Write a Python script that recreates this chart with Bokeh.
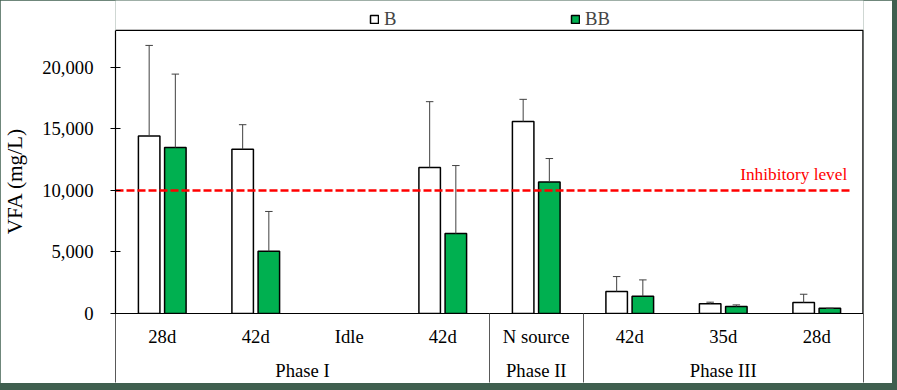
import numpy as np
from bokeh.plotting import figure
from bokeh.models import (Range1d, FixedTicker, NumeralTickFormatter, Label, LinearAxis,
                          Legend, LegendItem)
from bokeh.layouts import column
from bokeh.embed import file_html
from bokeh.resources import INLINE

# ---------------- data ----------------
categories = ["28d", "42d", "Idle", "42d", "N source", "42d", "35d", "28d"]
phases = ["Phase I", "Phase II", "Phase III"]
phase_start = [0, 4, 5]
phase_end = [4, 5, 8]
b_values = [14420, 13350, np.nan, 11860, 15590, 1790, 790, 890]
b_errors = [7360, 1990, np.nan, 5350, 1810, 1210, 130, 675]
bb_values = [13480, 5050, np.nan, 6490, 10680, 1400, 570, 430]
bb_errors = [5970, 3240, np.nan, 5530, 1910, 1330, 130, 0]
inhibitory_level = 10000
y_ticks = [0, 5000, 10000, 15000, 20000]
y_max = 23000
series_names = ["B", "BB"]

# ---------------- style / layout ----------------
FONT = "Liberation Serif"
GREEN = "#00B050"
BG = "#3f5f4f"
FS = "18.67px"
W, H = 892, 383
LEFT, AXIS_Y, BOX_TOP, BOX_RIGHT = 115, 314, 30, 863   # pixel layout of the plot box
SEP_LEN = H - AXIS_Y

n = len(categories)
xc = np.arange(n) + 0.5
xb = xc - 0.14
xbb = xc + 0.14
bv = np.array(b_values, dtype=float)
be = np.array(b_errors, dtype=float)
bbv = np.array(bb_values, dtype=float)
bbe = np.array(bb_errors, dtype=float)

# frame extends to the top edge so the legend / top border are drawn inside it
y_hi = y_max * AXIS_Y / (AXIS_Y - BOX_TOP)

p = figure(width=W, height=H, x_range=Range1d(0, n), y_range=Range1d(0, y_hi),
           output_backend="svg", toolbar_location=None,
           min_border_left=LEFT, min_border_right=W - BOX_RIGHT, min_border_top=0,
           min_border_bottom=SEP_LEN,
           background_fill_color="white", border_fill_color="white",
           outline_line_color=None)
p.xgrid.visible = False
p.ygrid.visible = False

# ---- y axis ----
yax = p.yaxis[0]
yax.bounds = (0, y_max)
yax.ticker = FixedTicker(ticks=y_ticks)
yax.formatter = NumeralTickFormatter(format="0,0")
yax.major_tick_in = 5
yax.major_tick_out = 5
yax.minor_tick_line_color = None
yax.axis_line_color = "black"
yax.axis_line_width = 1.2
yax.major_tick_line_color = "black"
yax.major_label_standoff = 17
yax.major_label_text_font = FONT
yax.major_label_text_font_size = FS
yax.major_label_text_color = "black"
yax.axis_label = "VFA (mg/L)" + "\u00a0" * 9
yax.axis_label_text_font = FONT
yax.axis_label_text_font_size = "21.3px"
yax.axis_label_text_font_style = "normal"
yax.axis_label_text_color = "black"
yax.axis_label_standoff = 12

# ---- x axis: sub-categories, with phase separators as long minor ticks ----
boundaries = sorted(set(phase_start + phase_end))
xax = p.xaxis[0]
xax.ticker = FixedTicker(ticks=list(xc), minor_ticks=boundaries)
xax.major_label_overrides = {float(x): c for x, c in zip(xc, categories)}
xax.major_tick_in = 0
xax.major_tick_out = 0
xax.major_tick_line_color = None
xax.minor_tick_in = 0
xax.minor_tick_out = SEP_LEN
xax.minor_tick_line_color = "#595959"
xax.minor_tick_line_width = 1
xax.axis_line_color = "black"
xax.axis_line_width = 1.2
xax.major_label_standoff = 12 - SEP_LEN
xax.major_label_text_font = FONT
xax.major_label_text_font_size = FS
xax.major_label_text_color = "black"

# ---- x axis: phases ----
phase_centers = [(s + e) / 2 for s, e in zip(phase_start, phase_end)]
pax = LinearAxis(ticker=FixedTicker(ticks=phase_centers),
                 major_label_overrides={float(x): ph for x, ph in zip(phase_centers, phases)})
pax.major_tick_in = 0
pax.major_tick_out = 0
pax.major_tick_line_color = None
pax.minor_tick_line_color = None
pax.axis_line_color = None
pax.major_label_standoff = 10
pax.major_label_text_font = FONT
pax.major_label_text_font_size = FS
pax.major_label_text_color = "black"
p.add_layout(pax, "below")

# ---- plot box: top and right borders ----
p.segment(x0=[0], y0=[y_max], x1=[n], y1=[y_max], line_color="black", line_width=1.2)
p.segment(x0=[n], y0=[0], x1=[n], y1=[y_max], line_color="black", line_width=2.4)

# ---- bars ----
rb = p.vbar(x=xb, top=bv, bottom=0, width=0.23, fill_color="white",
            line_color="black", line_width=1.5)
rbb = p.vbar(x=xbb, top=bbv, bottom=0, width=0.23, fill_color=GREEN,
             line_color="black", line_width=1.5)

# ---- error bars (plus only) ----
for xs, v, e in ((xb, bv, be), (xbb, bbv, bbe)):
    p.segment(x0=xs, y0=v, x1=xs, y1=v + e, line_color="#404040", line_width=1)
    p.segment(x0=xs - 0.04, y0=v + e, x1=xs + 0.04, y1=v + e,
              line_color="#404040", line_width=1)

# ---- inhibitory level ----
p.segment(x0=[0], y0=[inhibitory_level], x1=[7.86], y1=[inhibitory_level],
          line_color="red", line_width=2.5, line_dash="8 3")
p.add_layout(Label(x=7.826, y=inhibitory_level + 1310, text="Inhibitory level",
                   text_align="right", text_baseline="middle", text_color="red",
                   text_font=FONT, text_font_size="17.3px"))

# ---- legend (one per series, placed above the plot box) ----
for name, r, xloc in zip(series_names, (rb, rbb), (254, 455)):
    leg = Legend(items=[LegendItem(label=name, renderers=[r])], location=(xloc, 283),
                 orientation="horizontal", padding=0, margin=0, spacing=0,
                 glyph_width=10, glyph_height=10, label_standoff=5,
                 label_text_font=FONT, label_text_font_size=FS,
                 border_line_color=None, background_fill_alpha=0)
    p.add_layout(leg)

layout = column(p, width=897, height=390, styles={"background-color": BG})
open("out.html", "w").write(file_html(layout, INLINE))
